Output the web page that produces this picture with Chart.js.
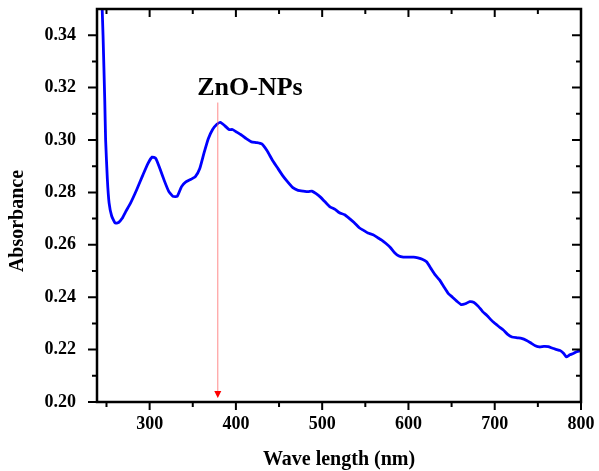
<!DOCTYPE html>
<html>
<head>
<meta charset="utf-8">
<script src="https://cdn.jsdelivr.net/npm/chart.js@4.4.1/dist/chart.umd.min.js"></script>
<style>
  html, body { margin: 0; padding: 0; background: #fff; }
  #wrap { width: 599px; height: 471px; }
</style>
</head>
<body>
<div id="wrap"><canvas id="uv-chart" width="599" height="471"></canvas></div>
<script>
// wavelength (nm) and absorbance
const wavelengths = [240, 244, 246, 248, 249, 251, 253, 256, 260, 264, 268, 272, 278, 285, 292, 298, 303, 307, 312, 317,
    322, 327, 332, 337, 342, 348, 353, 358, 363, 368, 373, 378, 382, 387, 392, 396, 401, 406, 412, 418,
    424, 430, 436, 442, 448, 454, 460, 466, 472, 478, 484, 488, 493, 498, 503, 509, 515, 520, 526, 531,
    537, 543, 548, 553, 559, 564, 569, 574, 579, 584, 589, 594, 600, 606, 611, 616, 621, 626, 631, 636,
    641, 646, 651, 656, 661, 666, 671, 676, 681, 686, 691, 698, 704, 710, 715, 720, 726, 731, 737, 742,
    747, 752, 757, 762, 767, 772, 776, 780, 783, 787, 791, 795, 800];
const absorbance = [0.400, 0.360, 0.340, 0.315, 0.300, 0.285, 0.276, 0.271, 0.2683, 0.2685, 0.270, 0.2725, 0.276, 0.281, 0.2865, 0.291, 0.2935, 0.293, 0.289, 0.2845,
    0.2805, 0.2785, 0.2785, 0.2822, 0.2840, 0.2850, 0.2860, 0.2890, 0.2950, 0.3005, 0.3040, 0.3060, 0.3067, 0.3055, 0.3040, 0.3040, 0.3030, 0.3020, 0.3005, 0.2993,
    0.2990, 0.2985, 0.2960, 0.2925, 0.2895, 0.2865, 0.2840, 0.2818, 0.2808, 0.2805, 0.2803, 0.2805, 0.2795, 0.2782, 0.2765, 0.2745, 0.2735, 0.2722, 0.2715, 0.2702,
    0.2685, 0.2665, 0.2655, 0.2645, 0.2638, 0.2628, 0.2618, 0.2605, 0.2590, 0.2570, 0.2557, 0.2553, 0.2553, 0.2553, 0.2550, 0.2545, 0.2535, 0.2510, 0.2485, 0.2466,
    0.2440, 0.2415, 0.2400, 0.2385, 0.2372, 0.2375, 0.2383, 0.2380, 0.2365, 0.2345, 0.2330, 0.2306, 0.2290, 0.2275, 0.2258, 0.2248, 0.2245, 0.2243, 0.2235, 0.2225,
    0.2215, 0.2210, 0.2212, 0.2211, 0.2205, 0.2200, 0.2196, 0.2185, 0.2172, 0.2180, 0.2185, 0.2192, 0.2196];

const xTicks = [300, 400, 500, 600, 700, 800];
const xMinor = [250, 350, 450, 550, 650, 750];
const yTicks = [0.20, 0.22, 0.24, 0.26, 0.28, 0.30, 0.32, 0.34];
const yMinor = [0.21, 0.23, 0.25, 0.27, 0.29, 0.31, 0.33];

const peakLabel = 'ZnO-NPs';
const peakX = 379;
const peakTop = 0.3143;
const yTitle = 'Absorbance';

const FONT = '"Liberation Serif", "Times New Roman", serif';

function noEdgePadding(s) {
    s.paddingTop = 0; s.paddingBottom = 0; s.paddingLeft = 0; s.paddingRight = 0;
}

// frame + ticks on four sides, origin style
const framePlugin = {
    id: 'frame',
    afterDraw(chart) {
        const ctx = chart.ctx;
        const a = chart.chartArea;
        const xs = chart.scales.x, ys = chart.scales.y;
        ctx.save();
        ctx.strokeStyle = '#000';
        ctx.lineWidth = 2.5;
        ctx.strokeRect(a.left, a.top, a.right - a.left, a.bottom - a.top);
        ctx.lineWidth = 2;
        ctx.beginPath();
        function xt(v, len) {
            const px = xs.getPixelForValue(v);
            ctx.moveTo(px, a.bottom); ctx.lineTo(px, a.bottom + len);
            ctx.moveTo(px, a.top); ctx.lineTo(px, a.top + len);
        }
        function yt(v, len) {
            const py = ys.getPixelForValue(v);
            ctx.moveTo(a.left, py); ctx.lineTo(a.left - len, py);
            ctx.moveTo(a.right, py); ctx.lineTo(a.right - len, py);
        }
        xTicks.forEach(v => xt(v, 8));
        xMinor.forEach(v => xt(v, 5));
        yTicks.forEach(v => yt(v, 9));
        yMinor.forEach(v => yt(v, 5));
        ctx.stroke();

        // arrow to the absorption peak
        const ax = xs.getPixelForValue(peakX);
        const y0 = ys.getPixelForValue(peakTop);
        const y1 = a.bottom - 4;
        ctx.strokeStyle = 'rgba(255,90,90,0.7)';
        ctx.lineWidth = 1;
        ctx.beginPath();
        ctx.moveTo(ax, y0); ctx.lineTo(ax, y1 - 6);
        ctx.stroke();
        ctx.fillStyle = '#ff0000';
        ctx.beginPath();
        ctx.moveTo(ax - 3.5, y1 - 7); ctx.lineTo(ax + 3.5, y1 - 7); ctx.lineTo(ax, y1);
        ctx.closePath();
        ctx.fill();

        ctx.fillStyle = '#000';
        ctx.font = 'bold 26px ' + FONT;
        ctx.textAlign = 'center';
        ctx.textBaseline = 'alphabetic';
        ctx.fillText(peakLabel, 250, 95);

        // y title, sits a bit below the middle like the original
        ctx.translate(18, 221);
        ctx.rotate(-Math.PI / 2);
        ctx.font = 'bold 20px ' + FONT;
        ctx.textBaseline = 'middle';
        ctx.fillText(yTitle, 0, 0);
        ctx.restore();
    }
};

new Chart(document.getElementById('uv-chart'), {
    type: 'line',
    data: {
        datasets: [{
            data: wavelengths.map((w, i) => ({ x: w, y: absorbance[i] })),
            borderColor: '#0000ff',
            borderWidth: 2.8,
            pointRadius: 0,
            tension: 0.15,
            fill: false,
        }]
    },
    options: {
        responsive: false,
        animation: false,
        layout: { padding: { top: 9, right: 18, left: 0, bottom: 0 } },
        plugins: { legend: { display: false }, tooltip: { enabled: false } },
        scales: {
            x: {
                type: 'linear',
                min: 239, max: 800,
                afterBuildTicks: s => { s.ticks = xTicks.map(v => ({ value: v })); },
                afterFit: s => { s.height = 69; noEdgePadding(s); },
                grid: { display: false },
                border: { display: false },
                ticks: { color: '#000', padding: 4, font: { family: FONT, size: 18, weight: 'bold' } },
                title: {
                    display: true, text: 'Wave length (nm)', color: '#000',
                    padding: { top: 0, bottom: -1 },
                    font: { family: FONT, size: 20, weight: 'bold' }
                }
            },
            y: {
                type: 'linear',
                min: 0.20, max: 0.35,
                afterBuildTicks: s => { s.ticks = yTicks.map(v => ({ value: v })); },
                afterFit: s => { s.width = 97; noEdgePadding(s); },
                grid: { display: false },
                border: { display: false },
                ticks: {
                    color: '#000', padding: 13,
                    font: { family: FONT, size: 18, weight: 'bold' },
                    callback: v => v.toFixed(2)
                },
                title: { display: false }
            }
        }
    },
    plugins: [framePlugin]
});
</script>
</body>
</html>
